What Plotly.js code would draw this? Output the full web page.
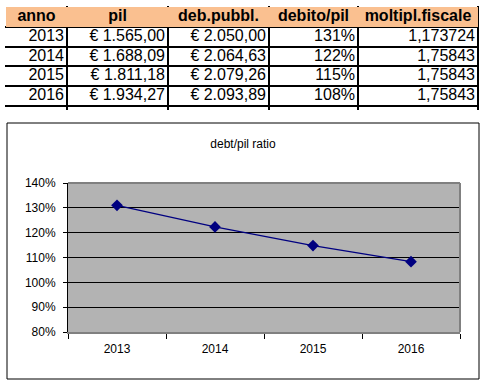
<!DOCTYPE html>
<html>
<head>
<meta charset="utf-8">
<script src="https://cdn.plot.ly/plotly-3.0.1.min.js"></script>
<style>html,body{margin:0;padding:0;background:#fff;}#chart{width:492px;height:392px;}</style>
</head>
<body>
<div id="chart"></div>
<script>
// Data
var headers = ["anno", "pil", "deb.pubbl.", "debito/pil", "moltipl.fiscale"];
var anni = ["2013", "2014", "2015", "2016"];
var pil = ["€ 1.565,00", "€ 1.688,09", "€ 1.811,18", "€ 1.934,27"];
var debPubbl = ["€ 2.050,00", "€ 2.064,63", "€ 2.079,26", "€ 2.093,89"];
var debitoPil = [1.310, 1.223, 1.148, 1.083];
var moltiplFiscale = ["1,173724", "1,75843", "1,75843", "1,75843"];

var W = 492, H = 392;
function px(x) { return x / W; }
function py(y) { return 1 - y / H; }
var FONT = "Arial, 'Liberation Sans', sans-serif";

// Table geometry (layout config): relative column widths
var colWidths = [61, 101, 101, 89, 120];
var bounds = [0];
colWidths.forEach(function (w) { bounds.push(bounds[bounds.length - 1] + w); });
var totalW = bounds[bounds.length - 1];
var centers = colWidths.map(function (w, i) { return bounds[i] + w / 2; });
var PAD = 3;

var columns = [
  anni,
  pil,
  debPubbl,
  debitoPil.map(function (v) { return Math.round(v * 100) + "%"; }),
  moltiplFiscale
];

var traces = [];

// header fill
traces.push({
  type: "bar", orientation: "h",
  x: [totalW], y: [0], base: 0, width: 1,
  marker: { color: "#fac090", line: { width: 0 } },
  xaxis: "x2", yaxis: "y2", hoverinfo: "skip"
});

// header text
traces.push({
  type: "scatter", mode: "text",
  x: centers, y: headers.map(function () { return 0; }),
  text: headers.map(function (h) { return "<b>" + h + "</b>"; }),
  textposition: "middle center",
  textfont: { family: FONT, size: 16, color: "#000000" },
  xaxis: "x2", yaxis: "y2", hoverinfo: "skip"
});

// body text
columns.forEach(function (col, c) {
  traces.push({
    type: "scatter", mode: "text",
    x: col.map(function () { return bounds[c + 1] - PAD; }),
    y: col.map(function (_, r) { return r + 1; }),
    text: col,
    textposition: "middle left",
    textfont: { family: FONT, size: 16, color: "#000000" },
    xaxis: "x2", yaxis: "y2", hoverinfo: "skip"
  });
});

// chart line
traces.push({
  type: "scatter",
  mode: "lines+markers",
  x: anni,
  y: debitoPil,
  xaxis: "x",
  yaxis: "y",
  line: { color: "#000080", width: 1.3 },
  marker: { symbol: "diamond", size: 9, color: "#000080" },
  hoverinfo: "x+y"
});

var plotL = 68, plotR = 460, plotT = 183, plotB = 332;
var rowBounds = [];
for (var i = 0; i <= 5; i++) rowBounds.push(i - 0.5);

var layout = {
  width: W,
  height: H,
  margin: { l: 0, r: 0, t: 0, b: 0 },
  paper_bgcolor: "#ffffff",
  plot_bgcolor: "#ffffff",
  showlegend: false,
  bargap: 0,
  font: { family: FONT, size: 12, color: "#000000" },
  title: {
    text: "debt/pil ratio",
    x: px(243), xanchor: "center",
    y: py(144), yanchor: "middle",
    xref: "paper", yref: "paper",
    font: { family: FONT, size: 12, color: "#000000" }
  },
  xaxis: {
    type: "category",
    domain: [px(plotL), px(plotR)],
    range: [-0.5, 3.5],
    tickson: "boundaries",
    ticks: "outside",
    ticklen: 5,
    tickcolor: "#000000",
    tickwidth: 1,
    showgrid: false,
    showline: true,
    linecolor: "#808080",
    linewidth: 2,
    ticklabelstandoff: 5,
    tickfont: { family: FONT, size: 12, color: "#000000" },
    fixedrange: true
  },
  yaxis: {
    domain: [py(plotB), py(plotT)],
    range: [0.8, 1.4],
    dtick: 0.1,
    tick0: 0.8,
    tickformat: ".0%",
    ticks: "outside",
    ticklen: 4,
    tickcolor: "#000000",
    showgrid: true,
    gridcolor: "#000000",
    gridwidth: 1,
    showline: true,
    linecolor: "#000000",
    linewidth: 1,
    zeroline: false,
    ticklabelstandoff: 5,
    tickfont: { family: FONT, size: 12, color: "#000000" },
    fixedrange: true
  },
  xaxis2: {
    anchor: "y2",
    domain: [px(5), px(479)],
    range: [-1, totalW + 1],
    tickmode: "array",
    tickvals: bounds,
    showticklabels: false,
    ticks: "",
    showgrid: true,
    gridcolor: "#000000",
    gridwidth: 2,
    zeroline: false,
    showline: false,
    fixedrange: true
  },
  yaxis2: {
    anchor: "x2",
    domain: [py(110), py(6)],
    range: [4.7, -0.55],
    tickmode: "array",
    tickvals: rowBounds,
    showticklabels: false,
    ticks: "",
    showgrid: true,
    gridcolor: "#000000",
    gridwidth: 2,
    zeroline: false,
    showline: false,
    fixedrange: true
  },
  shapes: [
    { type: "rect", xref: "paper", yref: "paper", x0: px(7), x1: px(479), y0: py(379), y1: py(123),
      line: { color: "#000000", width: 1 }, fillcolor: "rgba(0,0,0,0)", layer: "below" },
    { type: "rect", xref: "x domain", yref: "y domain", x0: 0, x1: 1, y0: 0, y1: 1,
      line: { width: 0 }, fillcolor: "#b3b3b3", layer: "below" },
    { type: "line", xref: "paper", yref: "paper", x0: px(plotL), x1: px(plotR), y0: py(plotT), y1: py(plotT),
      line: { color: "#808080", width: 2 }, layer: "above" },
    { type: "line", xref: "paper", yref: "paper", x0: px(plotR), x1: px(plotR), y0: py(plotB), y1: py(plotT),
      line: { color: "#808080", width: 2 }, layer: "above" }
  ]
};

Plotly.newPlot("chart", traces, layout, { displayModeBar: false, staticPlot: true });
</script>
</body>
</html>
